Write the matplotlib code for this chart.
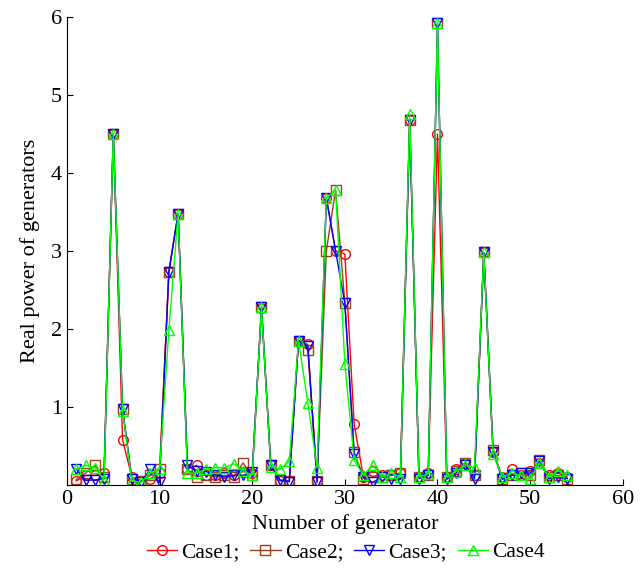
import numpy as np
import matplotlib
matplotlib.use('Agg')
import matplotlib.pyplot as plt

plt.rcParams['font.family'] = ['Liberation Serif', 'DejaVu Serif']

generators = list(range(1, 55))

case1 = [0.05, 0.12, 0.12, 0.15, 4.50, 0.58, 0.10, 0.05, 0.08, 0.15,
         2.73, 3.48, 0.20, 0.25, 0.12, 0.12, 0.15, 0.12, 0.17, 0.15,
         2.27, 0.25, 0.05, 0.05, 1.85, 1.80, 0.05, 3.68, 3.00, 2.96,
         0.78, 0.10, 0.18, 0.12, 0.12, 0.15, 4.68, 0.10, 0.15, 4.50,
         0.10, 0.20, 0.28, 0.12, 2.98, 0.42, 0.10, 0.20, 0.12, 0.18,
         0.28, 0.12, 0.15, 0.10]
case2 = [0.07, 0.15, 0.25, 0.10, 4.50, 0.97, 0.08, 0.05, 0.12, 0.20,
         2.73, 3.48, 0.20, 0.10, 0.13, 0.10, 0.12, 0.10, 0.28, 0.12,
         2.28, 0.25, 0.06, 0.05, 1.85, 1.73, 0.05, 3.00, 3.78, 2.33,
         0.42, 0.08, 0.10, 0.10, 0.12, 0.15, 4.68, 0.10, 0.12, 5.92,
         0.10, 0.18, 0.28, 0.12, 2.98, 0.45, 0.08, 0.12, 0.15, 0.12,
         0.32, 0.10, 0.12, 0.08]
case3 = [0.20, 0.06, 0.06, 0.08, 4.50, 0.97, 0.08, 0.03, 0.20, 0.03,
         2.73, 3.48, 0.25, 0.18, 0.17, 0.13, 0.10, 0.12, 0.12, 0.17,
         2.28, 0.25, 0.06, 0.04, 1.85, 1.78, 0.03, 3.68, 3.00, 2.33,
         0.40, 0.10, 0.03, 0.10, 0.08, 0.07, 4.68, 0.08, 0.12, 5.92,
         0.07, 0.15, 0.25, 0.08, 2.98, 0.42, 0.07, 0.12, 0.15, 0.15,
         0.30, 0.08, 0.10, 0.08]
case4 = [0.20, 0.25, 0.22, 0.06, 4.50, 0.95, 0.05, 0.03, 0.15, 0.20,
         1.98, 3.48, 0.15, 0.15, 0.20, 0.22, 0.22, 0.27, 0.18, 0.12,
         2.28, 0.23, 0.20, 0.30, 1.85, 1.05, 0.22, 3.68, 3.78, 1.55,
         0.32, 0.12, 0.25, 0.10, 0.15, 0.10, 4.76, 0.10, 0.14, 5.92,
         0.10, 0.17, 0.25, 0.22, 2.98, 0.40, 0.10, 0.15, 0.12, 0.07,
         0.28, 0.10, 0.18, 0.12]

labels = ['Case1;', 'Case2;', 'Case3;', 'Case4']
colors = ['red', '#a0401a', 'blue', '#00ff00']
markers = ['o', 's', 'v', '^']
series = [case1, case2, case3, case4]

fig = plt.figure(figsize=(6.44, 5.69), dpi=100)
ax = fig.add_axes([0.104, 0.148, 0.863, 0.822])

for data, label, color, mk in zip(series, labels, colors, markers):
    ax.plot(generators, data, label=label, color=color, marker=mk,
            markerfacecolor='none', markeredgecolor=color,
            markersize=7, linewidth=1.0)

ax.set_xlim(0, 60)
ax.set_ylim(0, 6)
ax.set_xticks(range(0, 61, 10))
ax.set_yticks(range(1, 7))
ax.spines['top'].set_visible(False)
ax.spines['right'].set_visible(False)
ax.tick_params(direction='in', labelsize=16, length=4)
ax.set_xlabel('Number of generator', fontsize=16, labelpad=4)
ax.set_ylabel('Real power of generators', fontsize=16, labelpad=8)

fig.legend(loc='lower center', bbox_to_anchor=(0.537, -0.022), ncol=4,
           frameon=False, fontsize=15.5, handlelength=1.4,
           handletextpad=0.2, columnspacing=0.5)

plt.savefig('out.png', dpi=100)
